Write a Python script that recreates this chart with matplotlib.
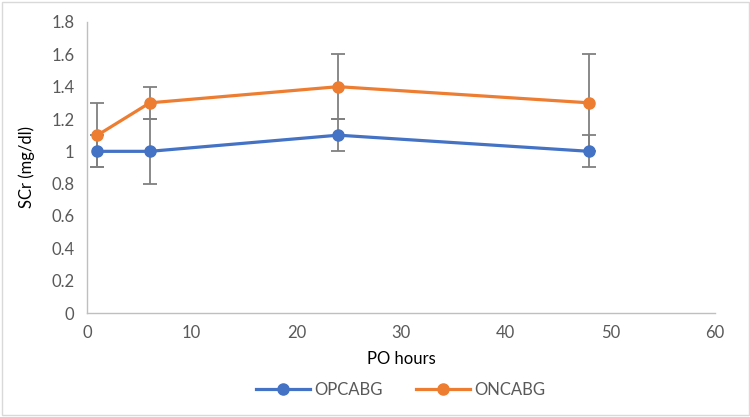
import matplotlib.pyplot as plt
from matplotlib.patches import Rectangle

hours = [1, 6, 24, 48]
opcabg = [1.0, 1.0, 1.1, 1.0]
opcabg_err = [0.1, 0.2, 0.1, 0.1]
oncabg = [1.1, 1.3, 1.4, 1.3]
oncabg_err = [0.2, 0.1, 0.2, 0.3]
xticks = [0, 10, 20, 30, 40, 50, 60]
yticks = [0, 0.2, 0.4, 0.6, 0.8, 1.0, 1.2, 1.4, 1.6, 1.8]

plt.rcParams['font.family'] = ['Lato', 'DejaVu Sans']

fig = plt.figure(figsize=(7.5, 4.17), dpi=100)
ax = fig.add_axes([87 / 750, 1 - 313 / 417, 628 / 750, 291 / 417])

err_style = dict(fmt='none', ecolor='#808080', elinewidth=1.3, capsize=5, capthick=1.3, zorder=2)
ax.errorbar(hours, opcabg, yerr=opcabg_err, **err_style)
ax.errorbar(hours, oncabg, yerr=oncabg_err, **err_style)
ax.plot(hours, opcabg, color='#4472C4', lw=2.3, marker='o', ms=8, label='OPCABG', zorder=3)
ax.plot(hours, oncabg, color='#ED7D31', lw=2.3, marker='o', ms=8, label='ONCABG', zorder=4)

ax.set_xlim(0, 60)
ax.set_ylim(0, 1.8)
ax.set_xticks(xticks)
ax.set_yticks(yticks)
ax.set_yticklabels(['0' if v == 0 else ('1' if v == 1 else f'{v:g}') for v in yticks])
for s in ['top', 'right']:
    ax.spines[s].set_visible(False)
for s in ['left', 'bottom']:
    ax.spines[s].set_color('#BFBFBF')
    ax.spines[s].set_linewidth(1)
ax.tick_params(length=0, labelsize=12, colors='#595959', pad=9)
ax.set_xlabel('PO hours', fontsize=12, color='black', labelpad=7)
ax.set_ylabel('SCr (mg/dl)', fontsize=12, color='black', labelpad=12)

leg = ax.legend(loc='center', bbox_to_anchor=(0.5, -0.265), ncol=2, frameon=False,
                fontsize=12, handlelength=3.2, columnspacing=2.0, handletextpad=0.3)
for t in leg.get_texts():
    t.set_color('#595959')

fig.patches.append(Rectangle((0.002, 0.004), 0.996, 0.992, transform=fig.transFigure,
                             fill=False, edgecolor='#D9D9D9', lw=1))

plt.savefig('out.png', dpi=100)
